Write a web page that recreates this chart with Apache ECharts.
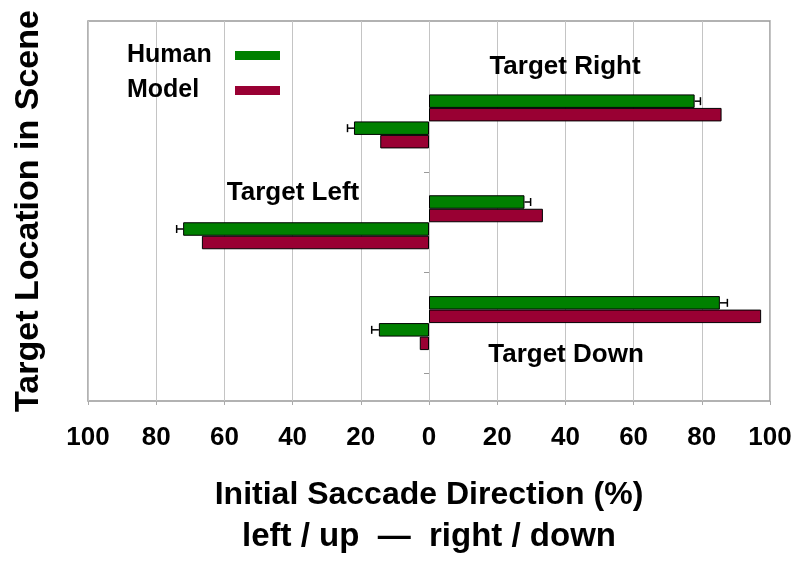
<!DOCTYPE html>
<html><head><meta charset="utf-8">
<script src="https://cdn.jsdelivr.net/npm/echarts@6/dist/echarts.min.js"></script>
<style>html,body{margin:0;padding:0;background:#fff}#c{width:800px;height:566px}</style>
</head><body><div id="c"></div>
<script>
// ---- data ----
const categories = ['Target Right', 'Target Left', 'Target Down'];
const seriesNames = ['Human', 'Model'];
const humanRight = [77.9, 28.0, 85.3];     // toward right / down (%)
const modelRight = [85.8, 33.4, 97.4];
const humanLeft  = [-22.0, -72.1, -14.7];  // toward left / up (%)
const modelLeft  = [-14.3, -66.6, -2.7];
const humanRightErr = [1.7, 1.8, 2.2];
const humanLeftErr  = [1.9, 1.9, 2.1];
const xMin = -100, xMax = 100, xStep = 20;
const xTitle1 = 'Initial Saccade Direction (%)';
const xTitle2 = 'left / up  \u2014  right / down';
const yTitle = 'Target Location in Scene';

// ---- style ----
const FONT = "'Liberation Sans', Arial, sans-serif";
const GREEN = '#008000', RED = '#990033';
const BAR_W = 13.5;

const chart = echarts.init(document.getElementById('c'), null, {renderer: 'canvas'});

function errRender(sign, slot) {
  return function (params, api) {
    const v = api.value(0), cat = api.value(1), e = api.value(2);
    const p0 = api.coord([v, cat]);
    const p1 = api.coord([v + sign * e, cat]);
    const y = p0[1] + slot * BAR_W;
    const h = 4;
    return {type: 'group', children: [
      {type: 'line', shape: {x1: p0[0], y1: y, x2: p1[0], y2: y}, style: {stroke: '#000', lineWidth: 1.5}},
      {type: 'line', shape: {x1: p1[0], y1: y - h, x2: p1[0], y2: y + h}, style: {stroke: '#000', lineWidth: 1.5}}
    ]};
  };
}

function barSeries(name, data, color) {
  return {
    type: 'bar', name: name, data: data, xAxisIndex: 1, yAxisIndex: 1,
    barWidth: BAR_W, barGap: '0%',
    itemStyle: {color: color, borderColor: '#000', borderWidth: 1},
    emphasis: {disabled: true}, z: 3
  };
}

const option = {
  animation: false,
  backgroundColor: '#fff',
  grid: [
    {left: 88, right: 30, top: 21, bottom: 165, show: true, borderColor: '#999', borderWidth: 1.5, backgroundColor: 'transparent'},
    {left: 88, right: 30, top: 71, bottom: 192.5}
  ],
  legend: {
    data: seriesNames, orient: 'vertical', left: 122, top: 38, align: 'right',
    itemWidth: 45, itemHeight: 9, itemGap: 10, icon: 'rect',
    itemStyle: {borderWidth: 0},
    formatter: function (n) { return '{a|' + n + '}'; },
    textStyle: {rich: {a: {width: 103, align: 'left', lineHeight: 26, fontSize: 25, fontWeight: 'bold', fontFamily: FONT, color: '#000'}}}
  },
  xAxis: [
    {
      gridIndex: 0, type: 'value', min: xMin, max: xMax, interval: xStep,
      axisLine: {show: false},
      axisTick: {show: true, length: 4, lineStyle: {color: '#aaa'}},
      splitLine: {show: true, lineStyle: {color: '#c4c4c4', width: 1}},
      axisLabel: {margin: 24, fontSize: 26, fontWeight: 'bold', fontFamily: FONT, color: '#000',
        formatter: function (v) { return String(Math.abs(v)); }},
      name: '{a|' + xTitle1 + '}\n{b|' + xTitle2 + '}', nameLocation: 'middle', nameGap: 74,
      nameTextStyle: {color: '#000', lineHeight: 41, rich: {
        a: {fontSize: 32, fontWeight: 'bold', fontFamily: FONT, color: '#000', lineHeight: 41},
        b: {fontSize: 33, fontWeight: 'bold', fontFamily: FONT, color: '#000', lineHeight: 41}
      }}
    },
    {gridIndex: 1, type: 'value', min: xMin, max: xMax, show: false}
  ],
  yAxis: [
    {
      gridIndex: 0, type: 'value', min: 0, max: 1,
      axisLine: {show: false}, axisTick: {show: false}, axisLabel: {show: false}, splitLine: {show: false},
      name: yTitle, nameLocation: 'middle', nameRotate: 90, nameGap: 42,
      nameTextStyle: {fontSize: 34, fontWeight: 'bold', fontFamily: FONT, color: '#000'}
    },
    {
      gridIndex: 1, type: 'category', data: categories, inverse: true,
      axisLine: {show: false, onZero: true},
      axisTick: {show: true, length: 5, lineStyle: {color: '#999'}, interval: function (i) { return i > 0; }},
      axisLabel: {show: false}, splitLine: {show: false}
    }
  ],
  series: [
    barSeries(seriesNames[0], humanRight, GREEN),
    barSeries(seriesNames[1], modelRight, RED),
    barSeries(seriesNames[0], humanLeft, GREEN),
    barSeries(seriesNames[1], modelLeft, RED),
    {type: 'custom', name: 'errR', xAxisIndex: 1, yAxisIndex: 1, z: 5,
      renderItem: errRender(1, -1.5), encode: {x: 0, y: 1},
      data: humanRight.map(function (v, i) { return [v, i, humanRightErr[i]]; })},
    {type: 'custom', name: 'errL', xAxisIndex: 1, yAxisIndex: 1, z: 5,
      renderItem: errRender(-1, 0.5), encode: {x: 0, y: 1},
      data: humanLeft.map(function (v, i) { return [v, i, humanLeftErr[i]]; })}
  ],
  graphic: [
    {type: 'text', x: 565, y: 67, z: 10, style: {text: categories[0], align: 'center', verticalAlign: 'middle', font: 'bold 26px ' + FONT, fill: '#000'}},
    {type: 'text', x: 293, y: 193, z: 10, style: {text: categories[1], align: 'center', verticalAlign: 'middle', font: 'bold 26px ' + FONT, fill: '#000'}},
    {type: 'text', x: 566, y: 355, z: 10, style: {text: categories[2], align: 'center', verticalAlign: 'middle', font: 'bold 26px ' + FONT, fill: '#000'}}
  ]
};
chart.setOption(option);
</script>
</body></html>
